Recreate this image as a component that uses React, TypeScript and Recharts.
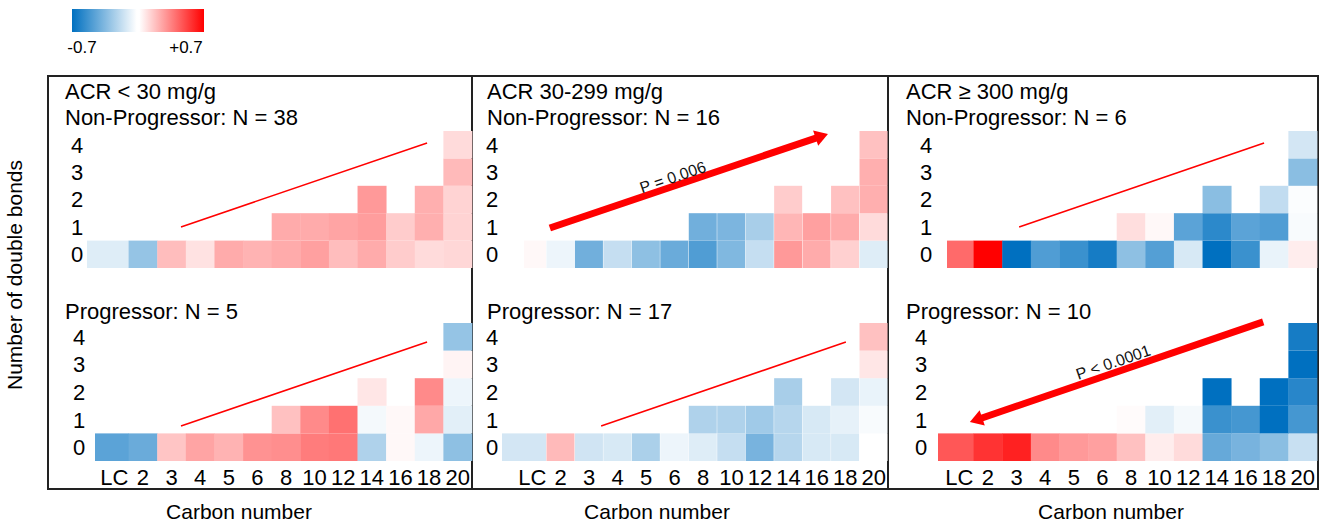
import React from "react";
import { BarChart, Bar, XAxis, YAxis, ReferenceLine } from "recharts";

const FONT = '"Liberation Sans", Arial, Helvetica, sans-serif';

const carbons = ["LC", "2", "3", "4", "5", "6", "8", "10", "12", "14", "16", "18", "20"];
const bondKeys = ["r0", "r1", "r2", "r3", "r4"];
const bondTicks = [0.5, 1.5, 2.5, 3.5, 4.5];
const _ = null;

// correlation values, rows = number of double bonds (0..4), cols = carbons
// ACR < 30 mg/g
const lowNonProg = [
  [-0.09, -0.29, 0.18, 0.08, 0.23, 0.21, 0.23, 0.26, 0.18, 0.23, 0.14, 0.1, 0.11],
  [_, _, _, _, _, _, 0.23, 0.23, 0.25, 0.27, 0.14, 0.22, 0.12],
  [_, _, _, _, _, _, _, _, _, 0.28, _, 0.22, 0.12],
  [_, _, _, _, _, _, _, _, _, _, _, _, 0.19],
  [_, _, _, _, _, _, _, _, _, _, _, _, 0.1],
];
const lowProg = [
  [-0.45, -0.41, 0.16, 0.25, 0.21, 0.3, 0.31, 0.36, 0.37, -0.22, 0.02, -0.05, -0.31],
  [_, _, _, _, _, _, 0.17, 0.32, 0.39, -0.03, 0.02, 0.24, -0.08],
  [_, _, _, _, _, _, _, _, _, 0.07, _, 0.32, -0.05],
  [_, _, _, _, _, _, _, _, _, _, _, _, 0.03],
  [_, _, _, _, _, _, _, _, _, _, _, _, -0.29],
];
// ACR 30-299 mg/g
const midNonProg = [
  [0.02, -0.05, -0.39, -0.16, -0.31, -0.41, -0.48, -0.35, -0.16, 0.28, 0.23, 0.13, -0.09],
  [_, _, _, _, _, _, -0.39, -0.36, -0.24, 0.2, 0.26, 0.23, 0.1],
  [_, _, _, _, _, _, _, _, _, 0.14, _, 0.17, 0.22],
  [_, _, _, _, _, _, _, _, _, _, _, _, 0.22],
  [_, _, _, _, _, _, _, _, _, _, _, _, 0.17],
];
const midProg = [
  [-0.12, 0.19, -0.13, -0.11, -0.23, -0.05, -0.09, -0.16, -0.37, -0.2, -0.11, -0.11, 0.0],
  [_, _, _, _, _, _, -0.22, -0.22, -0.26, -0.2, -0.11, -0.07, -0.02],
  [_, _, _, _, _, _, _, _, _, -0.24, _, -0.12, -0.06],
  [_, _, _, _, _, _, _, _, _, _, _, _, 0.07],
  [_, _, _, _, _, _, _, _, _, _, _, _, 0.17],
];
// ACR >= 300 mg/g
const highNonProg = [
  [0.41, 0.7, -0.7, -0.48, -0.54, -0.64, -0.31, -0.47, -0.11, -0.7, -0.54, -0.06, 0.05],
  [_, _, _, _, _, _, 0.09, 0.02, -0.45, -0.58, -0.45, -0.48, -0.02],
  [_, _, _, _, _, _, _, _, _, -0.32, _, -0.17, -0.01],
  [_, _, _, _, _, _, _, _, _, _, _, _, -0.32],
  [_, _, _, _, _, _, _, _, _, _, _, _, -0.12],
];
const highProg = [
  [0.46, 0.56, 0.61, 0.32, 0.28, 0.26, 0.17, 0.05, 0.1, -0.42, -0.37, -0.32, -0.15],
  [_, _, _, _, _, _, 0.01, -0.08, -0.03, -0.54, -0.51, -0.7, -0.51],
  [_, _, _, _, _, _, _, _, _, -0.7, _, -0.7, -0.59],
  [_, _, _, _, _, _, _, _, _, _, _, _, -0.7],
  [_, _, _, _, _, _, _, _, _, _, _, _, -0.64],
];

// trend annotations (x = carbon slot 0..13, y = double bonds 0..5)
const trendLowTop = [{ x: 2.83, y: 1.5 }, { x: 11.43, y: 4.56 }];
const trendLowBottom = [{ x: 2.83, y: 1.27 }, { x: 11.43, y: 4.31 }];
const trendMidTop = [{ x: 1.12, y: 1.46 }, { x: 10.89, y: 4.89 }];
const trendMidBottom = [{ x: 2.92, y: 1.27 }, { x: 11.52, y: 4.31 }];
const trendHighTop = [{ x: 2.59, y: 1.5 }, { x: 11.15, y: 4.56 }];
const trendHighBottom = [{ x: 11.12, y: 5.04 }, { x: 0.87, y: 1.41 }];

const heatColor = (v: number) => {
  const t = Math.min(1, Math.abs(v) / 0.7);
  if (v >= 0) {
    const c = Math.round(255 * (1 - t));
    return `rgb(255,${c},${c})`;
  }
  const r = Math.round(255 * (1 - t));
  const g = Math.round(255 - 143 * t);
  const b = Math.round(255 - 63 * t);
  return `rgb(${r},${g},${b})`;
};

const arrowShape = (label: string, along: number, normal: number) => (p: any) => {
  const { x1, y1, x2, y2 } = p;
  const dx = x2 - x1;
  const dy = y2 - y1;
  const len = Math.hypot(dx, dy);
  const ux = dx / len;
  const uy = dy / len;
  const headL = 13;
  const headW = 8;
  const bx = x2 - ux * headL;
  const by = y2 - uy * headL;
  const pts = `${x2},${y2} ${bx - uy * headW},${by + ux * headW} ${bx + uy * headW},${by - ux * headW}`;
  let tx = ux;
  let ty = uy;
  if (tx < 0) {
    tx = -tx;
    ty = -ty;
  }
  const angle = (Math.atan2(ty, tx) * 180) / Math.PI;
  const cx = (x1 + x2) / 2 + tx * along + ty * normal;
  const cy = (y1 + y2) / 2 + ty * along - tx * normal;
  return (
    <g>
      <line x1={x1} y1={y1} x2={bx + ux * 1} y2={by + uy * 1} stroke="#ff0000" strokeWidth={7} />
      <polygon points={pts} fill="#ff0000" />
      <text
        x={cx}
        y={cy}
        dy="0.36em"
        textAnchor="middle"
        fontSize={16}
        fontFamily={FONT}
        fill="#111"
        transform={`rotate(${angle} ${cx} ${cy})`}
      >
        {label}
      </text>
    </g>
  );
};

interface HeatmapProps {
  matrix: (number | null)[][];
  x0: number;
  x1: number;
  y0: number;
  y1: number;
  showX?: boolean;
  yDx: number;
  lcExtend: number;
  trend: { x: number; y: number }[];
  arrowLabel?: string;
  along?: number;
  normal?: number;
}

function Heatmap({ matrix, x0, x1, y0, y1, showX, yDx, lcExtend, trend, arrowLabel, along = 0, normal = 0 }: HeatmapProps) {
  const padL = 60;
  const padT = 14;
  const padR = 4;
  const padB = showX ? 32 : 6;
  const data = carbons.map((c, j) => {
    const row: any = { cat: c, slot: [j, j + 1] };
    bondKeys.forEach((k, i) => {
      row[k] = matrix[i][j] == null ? 0 : 1;
    });
    return row;
  });

  const YTick = (p: any) => (
    <text x={p.x - yDx} y={p.y} dy="0.36em" textAnchor="middle" fontSize={22} fontFamily={FONT} fill="#000">
      {Math.floor(p.payload.value)}
    </text>
  );
  const XTick = (p: any) => (
    <text x={p.x} y={p.y} dy="0.71em" textAnchor="middle" fontSize={22} fontFamily={FONT} fill="#000">
      {p.payload.value}
    </text>
  );

  return (
    <div style={{ position: "absolute", left: x0 - padL, top: y0 - padT }}>
      <BarChart
        width={x1 - x0 + padL + padR}
        height={y1 - y0 + padT + padB}
        data={data}
        margin={{ top: padT, right: padR, left: padL - 40, bottom: showX ? 0 : padB }}
        barCategoryGap={0}
        barGap={0}
        style={{ overflow: "visible" }}
      >
        <XAxis
          dataKey="cat"
          hide={!showX}
          height={padB}
          axisLine={false}
          tickLine={false}
          tickSize={0}
          tickMargin={8}
          interval={0}
          tick={XTick}
        />
        <XAxis xAxisId="n" dataKey="slot" type="number" domain={[0, 13]} allowDataOverflow hide />
        <YAxis
          type="number"
          domain={[0, 5]}
          ticks={bondTicks}
          width={40}
          axisLine={false}
          tickLine={false}
          tickSize={0}
          tickMargin={0}
          tick={YTick}
        />
        {bondKeys.map((k, i) => (
          <Bar
            key={k}
            dataKey={k}
            stackId="s"
            isAnimationActive={false}
            shape={(p: any) => {
              const v = matrix[i][p.index];
              if (v == null || !p.height) return <g />;
              const ext = p.index === 0 && i === 0 ? lcExtend : 0;
              return <rect x={p.x - ext} y={p.y} width={p.width + ext} height={p.height} fill={heatColor(v)} />;
            }}
          />
        ))}
        {arrowLabel ? (
          <ReferenceLine
            xAxisId="n"
            segment={trend}
            ifOverflow="visible"
            shape={arrowShape(arrowLabel, along, normal)}
          />
        ) : (
          <ReferenceLine xAxisId="n" segment={trend} ifOverflow="visible" stroke="#ff0000" strokeWidth={1.6} />
        )}
      </BarChart>
    </div>
  );
}

const Txt = ({ x, y, children, size = 22, center = false }: any) => (
  <div
    style={{
      position: "absolute",
      left: x,
      top: y,
      fontFamily: FONT,
      fontSize: size,
      lineHeight: "24px",
      whiteSpace: "nowrap",
      color: "#000",
      transform: center ? "translateX(-50%)" : undefined,
    }}
  >
    {children}
  </div>
);

export default function App() {
  return (
    <div style={{ position: "absolute", left: 0, top: 0, width: 1322, height: 523, background: "#fff", fontFamily: FONT }}>
      {/* color key */}
      <div
        style={{
          position: "absolute",
          left: 72,
          top: 9,
          width: 132,
          height: 23,
          background: "linear-gradient(to right, #0070c0 0%, #ffffff 49%, #ffffff 51%, #ff0000 100%)",
        }}
      />
      <div style={{ position: "absolute", left: 82, top: 38, transform: "translateX(-50%)", fontFamily: FONT, fontSize: 17, lineHeight: "20px" }}>-0.7</div>
      <div style={{ position: "absolute", left: 186, top: 38, transform: "translateX(-50%)", fontFamily: FONT, fontSize: 17, lineHeight: "20px" }}>+0.7</div>

      {/* frame */}
      <div style={{ position: "absolute", left: 47, top: 75, width: 1272, height: 415, border: "2px solid #222", boxSizing: "border-box" }} />
      <div style={{ position: "absolute", left: 471, top: 75, width: 2, height: 415, background: "#222" }} />
      <div style={{ position: "absolute", left: 887, top: 75, width: 2, height: 415, background: "#222" }} />

      {/* y label */}
      <div
        style={{
          position: "absolute",
          left: 15 - 150,
          top: 275 - 12,
          width: 300,
          height: 24,
          lineHeight: "24px",
          textAlign: "center",
          fontFamily: FONT,
          fontSize: 21,
          transform: "rotate(-90deg)",
          transformOrigin: "center",
        }}
      >
        Number of double bonds
      </div>

      {/* panel titles */}
      <Txt x={65} y={80}>ACR &lt; 30 mg/g</Txt>
      <Txt x={65} y={106}>Non-Progressor: N = 38</Txt>
      <Txt x={65} y={300}>Progressor: N = 5</Txt>
      <Txt x={487} y={80}>ACR 30-299 mg/g</Txt>
      <Txt x={487} y={106}>Non-Progressor: N = 16</Txt>
      <Txt x={487} y={300}>Progressor: N = 17</Txt>
      <Txt x={906} y={80}>ACR ≥ 300 mg/g</Txt>
      <Txt x={906} y={106}>Non-Progressor: N = 6</Txt>
      <Txt x={906} y={300}>Progressor: N = 10</Txt>

      <Heatmap matrix={lowNonProg} x0={100} x1={472} y0={131} y1={268} yDx={23} lcExtend={13} trend={trendLowTop} />
      <Heatmap matrix={lowProg} x0={100} x1={472} y0={323} y1={461} yDx={21} lcExtend={5} trend={trendLowBottom} showX />
      <Heatmap
        matrix={midNonProg}
        x0={518}
        x1={888}
        y0={131}
        y1={268}
        yDx={26}
        lcExtend={-6}
        trend={trendMidTop}
        arrowLabel="P = 0.006"
        along={-14}
        normal={9}
      />
      <Heatmap matrix={midProg} x0={518} x1={888} y0={323} y1={461} yDx={26} lcExtend={16} trend={trendMidBottom} showX />
      <Heatmap matrix={highNonProg} x0={945} x1={1317} y0={131} y1={268} yDx={19} lcExtend={-2} trend={trendHighTop} />
      <Heatmap
        matrix={highProg}
        x0={945}
        x1={1317}
        y0={323}
        y1={461}
        yDx={24}
        lcExtend={7}
        trend={trendHighBottom}
        arrowLabel="P < 0.0001"
        along={0}
        normal={10.6}
        showX
      />

      <Txt x={239} y={500} size={21} center>Carbon number</Txt>
      <Txt x={657} y={500} size={21} center>Carbon number</Txt>
      <Txt x={1111} y={500} size={21} center>Carbon number</Txt>
    </div>
  );
}
